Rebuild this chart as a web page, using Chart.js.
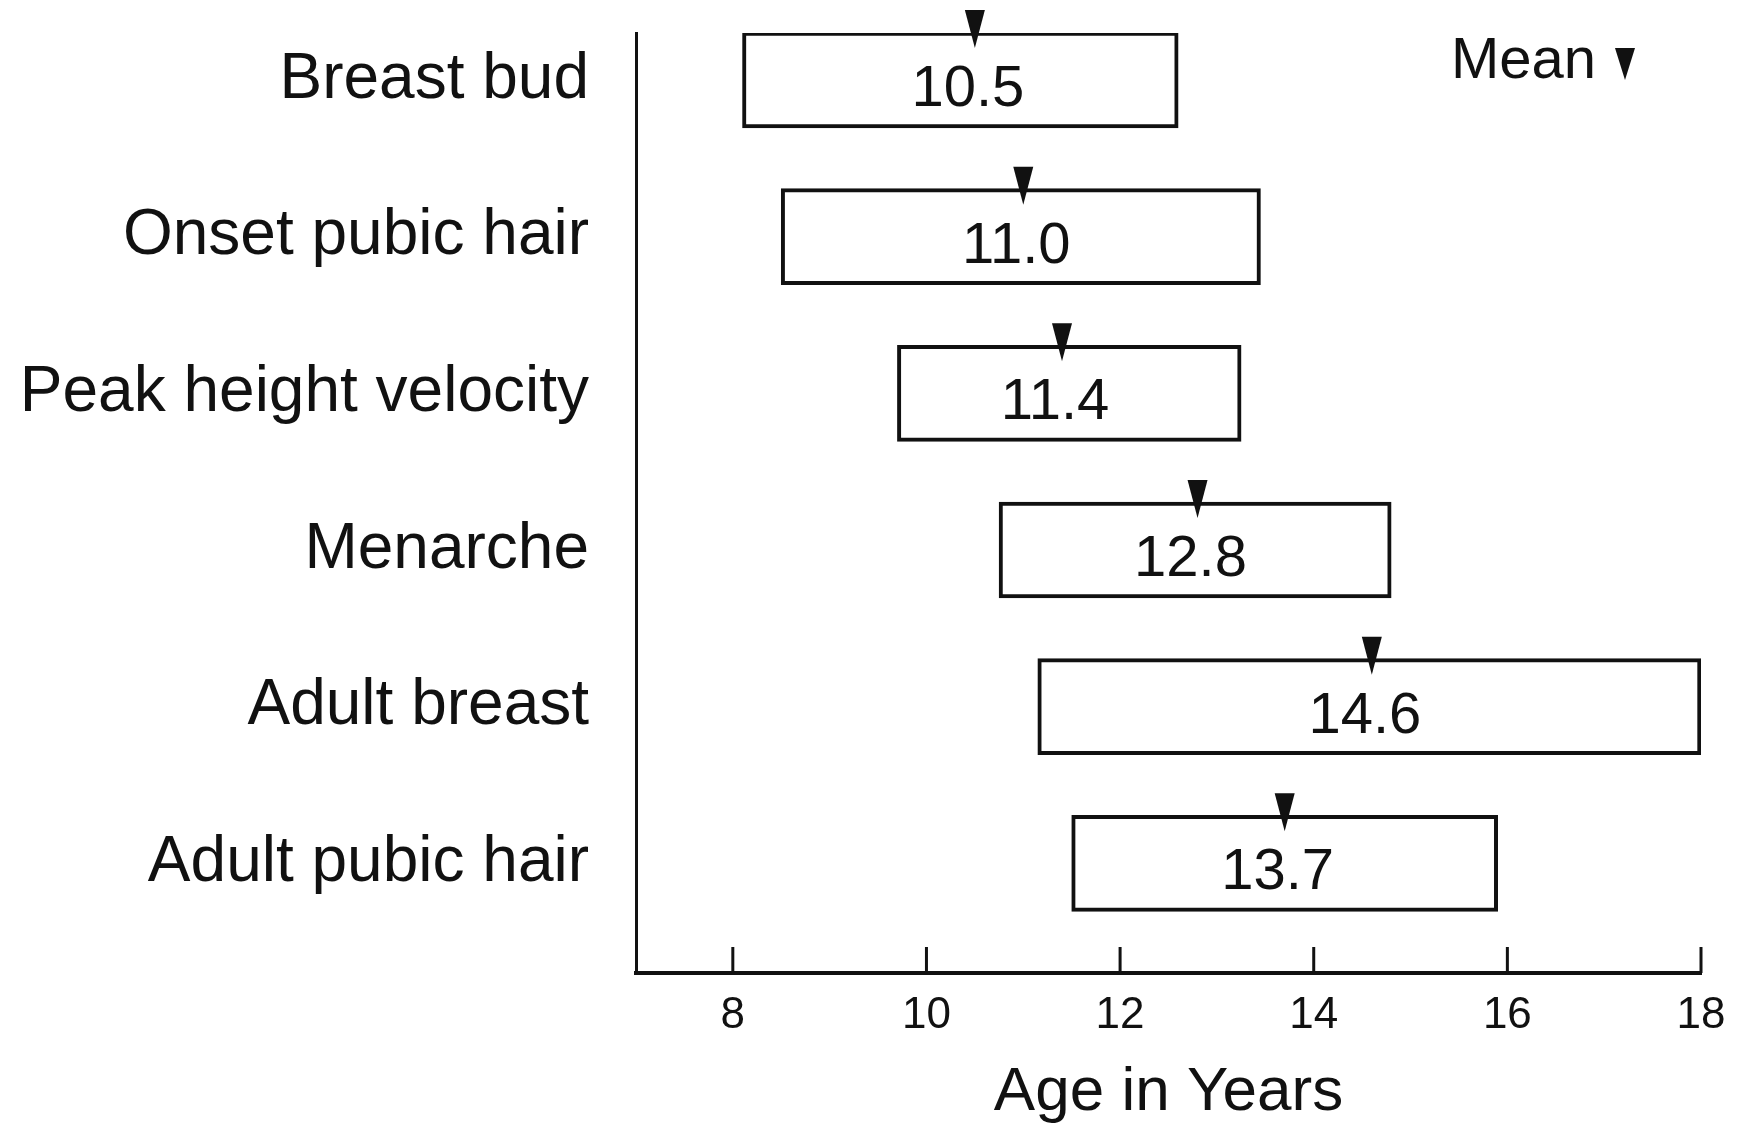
<!DOCTYPE html>
<html>
<head>
<meta charset="utf-8">
<script src="https://cdn.jsdelivr.net/npm/chart.js@4.4.0/dist/chart.umd.min.js"></script>
<style>
  html, body { margin: 0; padding: 0; background: #fff; }
  #wrap { width: 1743px; height: 1126px; }
</style>
</head>
<body>
<div id="wrap"><canvas id="my-chart"></canvas></div>
<script>
const stages = ['Breast bud', 'Onset pubic hair', 'Peak height velocity', 'Menarche', 'Adult breast', 'Adult pubic hair']
const rangeStart = [8.1, 8.5, 9.7, 10.75, 11.15, 11.5]
const rangeEnd = [12.6, 13.45, 13.25, 14.8, 18.0, 15.9]
const means = [10.5, 11.0, 11.4, 12.8, 14.6, 13.7]
const meanLabels = ['10.5', '11.0', '11.4', '12.8', '14.6', '13.7']
const ageTicks = [8, 10, 12, 14, 16, 18]

const ink = '#111'
const fontFamily = '"Liberation Sans", Arial, sans-serif'

function downTriangle(ctx, cx, top, w, h) {
    ctx.beginPath()
    ctx.moveTo(cx - w / 2, top)
    ctx.lineTo(cx + w / 2, top)
    ctx.lineTo(cx, top + h)
    ctx.closePath()
    ctx.fill()
}

// tick marks pointing up, mean arrows + values, "Mean" key
const marksPlugin = {
    id: 'marks',
    afterDraw(chart) {
        const ctx = chart.ctx
        const xs = chart.scales.x
        const area = chart.chartArea
        ctx.save()
        ctx.strokeStyle = ink
        ctx.fillStyle = ink
        ctx.lineWidth = 3
        xs.ticks.forEach(t => {
            const px = xs.getPixelForValue(t.value)
            ctx.beginPath()
            ctx.moveTo(px, area.bottom)
            ctx.lineTo(px, area.bottom - 26)
            ctx.stroke()
        })

        ctx.textAlign = 'center'
        ctx.textBaseline = 'middle'
        ctx.font = '58px ' + fontFamily
        const meta = chart.getDatasetMeta(0)
        meta.data.forEach((bar, i) => {
            const { y, height } = bar.getProps(['y', 'height'], true)
            const mx = xs.getPixelForValue(means[i])
            const top = y - height / 2
            ctx.fillText(meanLabels[i], mx - 7, y + 10)
            downTriangle(ctx, mx, top - 22, 20, 38)
        })

        ctx.textAlign = 'left'
        ctx.font = '58px ' + fontFamily
        ctx.fillText('Mean', 1451, 62)
        downTriangle(ctx, 1625, 48, 20, 32)
        ctx.restore()
    }
}

const ctxBar = document.getElementById('my-chart').getContext('2d')
new Chart(ctxBar, {
    type: 'bar',
    data: {
        datasets: [{
            data: stages.map((s, i) => ({ x: [rangeStart[i], rangeEnd[i]], y: i })),
            backgroundColor: '#fff',
            borderColor: ink,
            borderWidth: 4,
            borderSkipped: false,
            barThickness: 96
        }]
    },
    options: {
        indexAxis: 'y',
        responsive: true,
        maintainAspectRatio: false,
        animation: false,
        layout: { padding: { top: 33, right: 42, left: 0, bottom: 0 } },
        plugins: {
            legend: { display: false },
            tooltip: { enabled: false }
        },
        scales: {
            x: {
                type: 'linear',
                position: 'bottom',
                min: 7,
                max: 18,
                afterBuildTicks: scale => { scale.ticks = ageTicks.map(v => ({ value: v })) },
                afterFit: scale => { scale.height = 153 },
                grid: { display: false, drawTicks: false },
                border: { display: true, color: ink, width: 4 },
                ticks: {
                    color: ink,
                    padding: 16,
                    font: { family: fontFamily, size: 44 }
                },
                title: {
                    display: true,
                    text: 'Age in Years',
                    color: ink,
                    font: { family: fontFamily, size: 62, lineHeight: 1.0 },
                    padding: { top: 0, bottom: 2 }
                }
            },
            y: {
                type: 'linear',
                reverse: true,
                offset: false,
                bounds: 'data',
                min: -0.3,
                max: 5.7,
                afterBuildTicks: scale => { scale.ticks = stages.map((s, i) => ({ value: i })) },
                afterFit: scale => {
                    scale.width = 636
                    scale.paddingTop = 0
                    scale.paddingBottom = 0
                },
                grid: { display: false, drawTicks: false },
                border: { display: true, color: ink, width: 3 },
                ticks: {
                    color: ink,
                    padding: 47,
                    autoSkip: false,
                    font: { family: fontFamily, size: 64 },
                    callback: v => stages[v]
                }
            }
        }
    },
    plugins: [marksPlugin]
})
</script>
</body>
</html>
